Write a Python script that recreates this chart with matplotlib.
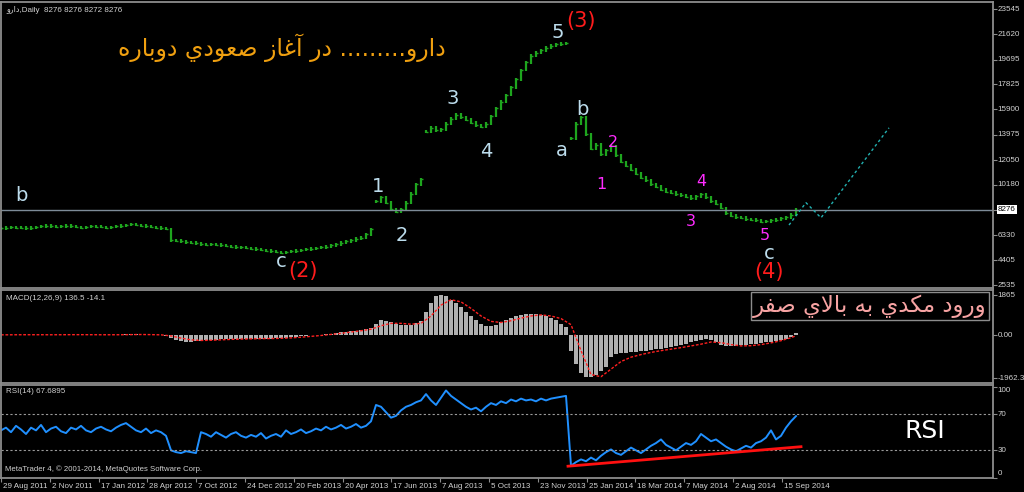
import numpy as np
import matplotlib
matplotlib.use("Agg")
import matplotlib.pyplot as plt
from matplotlib.transforms import ScaledTranslation

plt.rcParams['font.family'] = ['DejaVu Sans']
SMALL_FONT = ['Liberation Sans', 'DejaVu Sans']

# ---------------- data ----------------
symbol = "دارو"
timeframe = "Daily"
ohlc_last = [8276, 8276, 8272, 8276]

bar_step = 5
price_close = [
    6850, 6900, 6950, 6900, 6880, 6850, 6900, 6950, 7000, 7050,
    7000, 6950, 7000, 7050, 7000, 6950, 6900, 6950, 7000, 6980,
    6950, 6900, 6950, 7000, 7050, 7100, 7150, 7100, 7050, 7000,
    6950, 6900, 6850, 6800,
    5950, 5900, 5850, 5800, 5750, 5700, 5650, 5600, 5650, 5600,
    5550, 5500, 5450, 5400, 5400, 5350, 5300, 5250, 5200, 5150,
    5100, 5050, 5000, 5050, 5100, 5150, 5200, 5250, 5300, 5350,
    5400, 5450, 5550, 5650, 5750, 5850, 5950, 6050, 6150, 6400,
    6800,
    8900, 9200, 8800, 8300, 8100, 8300, 8800, 9500, 10200, 10600,
    14200, 14500, 14300, 14400, 14800, 15200, 15500, 15300, 15100, 14900,
    14700, 14600, 14800, 15400, 16000, 16500, 17000, 17600, 18200, 18900,
    19500, 20000, 20200, 20400, 20600, 20750, 20850, 20900, 20950,
    13700, 14800, 15300, 14000, 12900, 13200, 12500, 12800, 13100, 12400,
    11900, 11600, 11300, 11000, 10700, 10500, 10200, 10000, 9800, 9650,
    9550, 9450, 9350, 9250, 9150, 9300, 9450, 9200, 8900, 8700,
    8400, 8000, 7800, 7700, 7650, 7550, 7500, 7450, 7350, 7400,
    7450, 7500, 7600, 7700, 7900, 8276,
]
halt_resume_bars = [375, 425, 570]

forecast_bars = [788, 805, 820, 888]
forecast_price = [7100, 8800, 7650, 14500]

price_ticks = [23545, 21620, 19695, 17825, 15900, 13975, 12050, 10180, 6330, 4405, 2535]
last_price = 8276

macd_main = [
    30, 35, 40, 35, 30, 25, 30, 35, 40, 45, 40, 35, 40, 45, 40, 35, 30,
    35, 40, 35, 30, 25, 30, 35, 40, 50, 60, 55, 45, 35, 25, 15, 5, -20,
    -100, -200, -250, -280, -280, -260, -240, -220, -200, -190, -180, -180,
    -170, -160, -160, -150, -150, -150, -140, -140, -140, -130, -120, -100,
    -80, -60, -40, -20, 0, 20, 40, 60, 80, 110, 140, 170, 200, 230, 260,
    300, 350,
    550, 700, 680, 620, 550, 500, 480, 500, 560, 650,
    1100, 1500, 1800, 1850, 1800, 1650, 1500, 1300, 1100, 900, 700, 550,
    450, 450, 500, 600, 700, 800, 900, 950, 1000, 1000, 1000, 950, 900,
    800, 700, 550, 400,
    -700, -1300, -1750, -1920, -1900, -1800, -1650, -1450, -1000, -850,
    -820, -800, -780, -750, -720, -700, -670, -640, -600, -560,
    -520, -480, -440, -400, -320, -250, -200, -180, -200, -300,
    -420, -470, -480, -470, -460, -440, -410, -380, -350, -320,
    -280, -240, -200, -150, -60, 136.5,
]
signal_step = 10
macd_signal = [
    30, 32, 35, 35, 35, 33, 35, 38, 38, 36, 34, 34, 35, 40, 45, 40, 30,
    -20, -120, -200, -230, -220, -200, -180, -165, -155, -145, -140, -130,
    -110, -80, -40, 0, 50, 100, 160, 220, 290,
    450, 560, 560, 520, 560,
    900, 1400, 1650, 1550, 1250, 900, 650, 600, 680, 800, 900, 950, 900, 780,
    500, -700, -1800, -1900, -1550, -1200, -1000, -880, -780, -700, -630,
    -560, -480, -400, -300, -330, -420, -480, -470, -420, -340, -240, -100,
]
macd_last = (136.5, -14.1)
macd_ticks = [1865, 0.0, -1962.3]
macd_tick_labels = ["1865", "0.00", "-1962.3"]

rsi_values = [
    52, 55, 50, 57, 53, 48, 55, 52, 58, 50, 54, 56, 51, 49, 55, 53, 57,
    52, 50, 54, 56, 53, 51, 55, 58, 60, 56, 52, 50, 54, 49, 52, 50, 46,
    30, 28, 27, 29, 28, 27,
    50, 48, 45, 50, 47, 44, 48, 50, 46, 44, 47, 45, 49, 43, 46, 48, 45,
    52, 48, 50, 53, 49, 51, 54, 52, 56, 53, 55, 58, 54, 56, 59, 55, 57, 62,
    80, 78, 72, 66, 68, 74, 78, 80, 83, 85,
    92, 85, 80, 88, 96, 90, 86, 82, 78, 75, 77, 73, 78, 82, 80, 84, 82,
    86, 84, 87, 85, 86, 84, 87, 85, 87, 88, 89, 90,
    13, 17, 20, 18, 22, 19, 24, 28, 31, 27, 25, 29, 33, 30, 27, 31, 35,
    38, 42, 36, 33, 30, 34, 38, 36, 40, 48, 44, 40, 42, 38, 34, 31, 29,
    32, 35, 33, 38, 40, 44, 52, 42, 46, 55, 62, 67.6895,
]
rsi_last = 67.6895
rsi_levels = [30, 70]
rsi_ticks = ["100", "70", "30", "0"]
rsi_support_bars = [567, 800]
rsi_support_vals = [12.5, 34.0]

date_labels = ["29 Aug 2011", "2 Nov 2011", "17 Jan 2012", "28 Apr 2012",
               "7 Oct 2012", "24 Dec 2012", "20 Feb 2013", "20 Apr 2013",
               "17 Jun 2013", "7 Aug 2013", "5 Oct 2013", "23 Nov 2013",
               "25 Jan 2014", "18 Mar 2014", "7 May 2014", "2 Aug 2014",
               "15 Sep 2014"]
bars_per_label = 48.8

# Elliott wave annotations: (text, bar, price, colour key, size)
wave_marks = [
    ("b", 20, 9311, "wave", 14), ("c", 280, 4287, "wave", 14),
    ("(2)", 302, 3602, "major", 15),
    ("1", 377, 9996, "wave", 14), ("2", 401, 6266, "wave", 14),
    ("3", 452, 16770, "wave", 14), ("4", 485, 12660, "wave", 14),
    ("5", 557, 21794, "wave", 14), ("(3)", 580, 22632, "major", 15),
    ("a", 561, 12736, "wave", 14), ("b", 581, 15857, "wave", 14),
    ("1", 600, 10148, "minor", 11.5), ("2", 612, 13345, "minor", 11.5),
    ("3", 690, 7332, "minor", 11.5), ("4", 700, 10376, "minor", 11.5),
    ("5", 764, 6300, "minor", 11.5),
    ("c", 768, 4970, "wave", 14), ("(4)", 768, 3525, "major", 15),
]
headline = "دارو......... در آغاز صعودي دوباره"
macd_note = "ورود مكدي به بالاي صفر"
copyright_note = "MetaTrader 4, \u00a9 2001-2014, MetaQuotes Software Corp."

# ---------------- Arabic-script shaping (presentation forms) ----------------
FORMS = {  # isolated, final, initial, medial
    '\u0627': ('\uFE8D', '\uFE8E', None, None),
    '\u0622': ('\uFE81', '\uFE82', None, None),
    '\u0628': ('\uFE8F', '\uFE90', '\uFE91', '\uFE92'),
    '\u062F': ('\uFEA9', '\uFEAA', None, None),
    '\u0631': ('\uFEAD', '\uFEAE', None, None),
    '\u0632': ('\uFEAF', '\uFEB0', None, None),
    '\u0635': ('\uFEB9', '\uFEBA', '\uFEBB', '\uFEBC'),
    '\u0639': ('\uFEC9', '\uFECA', '\uFECB', '\uFECC'),
    '\u063A': ('\uFECD', '\uFECE', '\uFECF', '\uFED0'),
    '\u0641': ('\uFED1', '\uFED2', '\uFED3', '\uFED4'),
    '\u0643': ('\uFED9', '\uFEDA', '\uFEDB', '\uFEDC'),
    '\u0644': ('\uFEDD', '\uFEDE', '\uFEDF', '\uFEE0'),
    '\u0645': ('\uFEE1', '\uFEE2', '\uFEE3', '\uFEE4'),
    '\u0647': ('\uFEE9', '\uFEEA', '\uFEEB', '\uFEEC'),
    '\u0648': ('\uFEED', '\uFEEE', None, None),
    '\u064A': ('\uFEF1', '\uFEF2', '\uFEF3', '\uFEF4'),
    'LA': ('\uFEFB', '\uFEFC', None, None),
}


def _normalise(s):
    return (s.replace('\u06CC', '\u064A').replace('\u06A9', '\u0643')
             .replace('\u0627\u0653', '\u0622'))


def shape_word(word):
    word = _normalise(word)
    letters, i = [], 0
    while i < len(word):
        if word[i] == '\u0644' and i + 1 < len(word) and word[i + 1] == '\u0627':
            letters.append('LA')
            i += 2
        else:
            letters.append(word[i])
            i += 1
    out = []
    for k, ch in enumerate(letters):
        if ch not in FORMS:
            out.append(ch)
            continue
        f = FORMS[ch]
        prev_joins = k > 0 and letters[k - 1] in FORMS and FORMS[letters[k - 1]][2] is not None
        next_ok = k + 1 < len(letters) and letters[k + 1] in FORMS
        join_next = f[2] is not None and next_ok
        if prev_joins and join_next:
            out.append(f[3])
        elif prev_joins:
            out.append(f[1])
        elif join_next:
            out.append(f[2])
        else:
            out.append(f[0])
    return ''.join(reversed(out))


def rtl(text):
    return ' '.join(shape_word(w) for w in reversed(text.split(' ')))


# ---------------- figure ----------------
W, H, DPI = 1024, 492, 100
BG = "black"
FRAME = "#8c8c8c"
TXT = "#d2d2d2"
GREEN = "#1ea51e"
COLORS = {"wave": "#bcdcec", "major": "#ff1c1c", "minor": "#ff2cff"}

fig = plt.figure(figsize=(W / DPI, H / DPI), dpi=DPI, facecolor=BG)


def px_axes(x0, y0, x1, y1):
    return fig.add_axes([x0 / W, 1 - y1 / H, (x1 - x0) / W, (y1 - y0) / H], facecolor=BG)


ax_p = px_axes(1, 2, 993, 288)
ax_m = px_axes(1, 290, 993, 383)
ax_r = px_axes(1, 385, 993, 478)

for ax in (ax_p, ax_m, ax_r):
    ax.set_xlim(0, 992)
    for sp in ax.spines.values():
        sp.set_color(FRAME)
        sp.set_linewidth(1.3)
    ax.yaxis.tick_right()
    ax.tick_params(axis='y', colors=FRAME, length=3, width=0.8, labelright=False)
    ax.tick_params(axis='x', bottom=False, labelbottom=False)

bars = np.arange(len(price_close)) * bar_step


def right_label(ax, value, text, dy=0, color=TXT, **kw):
    ax.annotate(text, xy=(1, value), xycoords=('axes fraction', 'data'),
                xytext=(3.5, dy), textcoords='offset points', va='center', ha='left',
                fontsize=5.8, family=SMALL_FONT, color=color,
                annotation_clip=False, **kw)


def header(ax, y, text):
    ax.text(0.005, y, text, transform=ax.transAxes, color=TXT, fontsize=5.8,
            family=SMALL_FONT, ha='left', va='top')


# ---- price panel ----
ax_p.set_ylim(2307, 24078)
close = np.array(price_close, float)
prev = np.r_[close[0], close[:-1]]
resume = np.isin(bars, halt_resume_bars)
prev[resume] = close[resume]
lo = np.minimum(prev, close) - 110
hi = np.maximum(prev, close) + 110
ax_p.vlines(bars, lo, hi, color=GREEN, lw=1.6)
ax_p.hlines(close, bars, bars + 2.2, color=GREEN, lw=1.0)

ax_p.axhline(last_price, color="#7d8b98", lw=1.0)
ax_p.plot(forecast_bars, forecast_price, color="#22b0b0", lw=1.0, ls=(0, (2, 2)))

ax_p.set_yticks(price_ticks + [last_price])
for v in price_ticks:
    right_label(ax_p, v, str(v))
right_label(ax_p, last_price, str(last_price), color="black",
            bbox=dict(boxstyle="square,pad=0.15", fc="white", ec="none"))

for text, b, p, ckey, size in wave_marks:
    ax_p.text(b, p, text, color=COLORS[ckey], fontsize=size, ha='center', va='center')

ax_p.text(0.283, 0.84, rtl(headline), transform=ax_p.transAxes, color="#f0a010",
          fontsize=17, ha='center', va='center')
header(ax_p, 0.985, shape_word(symbol) + "," + timeframe + "  " +
       " ".join(str(v) for v in ohlc_last))

# ---- MACD panel ----
ax_m.set_ylim(-2190, 2097)
ax_m.bar(bars, macd_main, width=bar_step * 0.7, color="#b0b0b0", linewidth=0)
sig_bars = np.r_[np.arange(len(macd_signal)) * signal_step, bars[-1]]
ax_m.plot(sig_bars, list(macd_signal) + [macd_last[1]], color="#ff2020", lw=1.0,
          ls=(0, (2, 1.2)))
ax_m.set_yticks(macd_ticks)
for v, t in zip(macd_ticks, macd_tick_labels):
    right_label(ax_m, v, t)
header(ax_m, 0.95, "MACD(12,26,9) %s %s" % macd_last)
ax_m.text(0.876, 0.83, rtl(macd_note), transform=ax_m.transAxes, color="#f7a3a3",
          fontsize=16.5, ha='center', va='center', clip_on=False, zorder=10,
          bbox=dict(boxstyle="square,pad=0.1", fc=BG, ec="#8c8c8c", lw=1.0))

# ---- RSI panel ----
ax_r.set_ylim(-0.5, 102)
ax_r.plot(bars, rsi_values, color="#2090ff", lw=1.4)
for lvl in rsi_levels:
    ax_r.axhline(lvl, color="#9a9a9a", lw=0.8, ls=(0, (2, 2)))
ax_r.plot(rsi_support_bars, rsi_support_vals, color="#ff1010", lw=2.0)
ax_r.set_yticks([100, 70, 30, 0])
for v, t, dy in zip([100, 70, 30, 0], rsi_ticks, [-3, 0, 0, 3]):
    right_label(ax_r, v, t, dy=dy)
header(ax_r, 0.97, "RSI(14) %s" % rsi_last)
ax_r.text(0.931, 0.5, "RSI", transform=ax_r.transAxes, color="white",
          fontsize=18, ha='center', va='center')
ax_r.text(0.004, 0.05, copyright_note, transform=ax_r.transAxes,
          color=TXT, fontsize=5.6, family=SMALL_FONT, ha='left', va='bottom')

tick_bars = np.arange(len(date_labels)) * bars_per_label
ax_r.tick_params(axis='x', bottom=True, labelbottom=True, colors=FRAME,
                 length=3, width=0.8, pad=0.3, labelcolor=TXT, labelsize=5.8)
ax_r.set_xticks(tick_bars)
ax_r.set_xticklabels(date_labels, ha='left', family=SMALL_FONT)
shift = ScaledTranslation(2 / DPI, 0, fig.dpi_scale_trans)
for lab in ax_r.get_xticklabels():
    lab.set_transform(lab.get_transform() + shift)

fig.savefig("out.png", dpi=DPI, facecolor=BG)
